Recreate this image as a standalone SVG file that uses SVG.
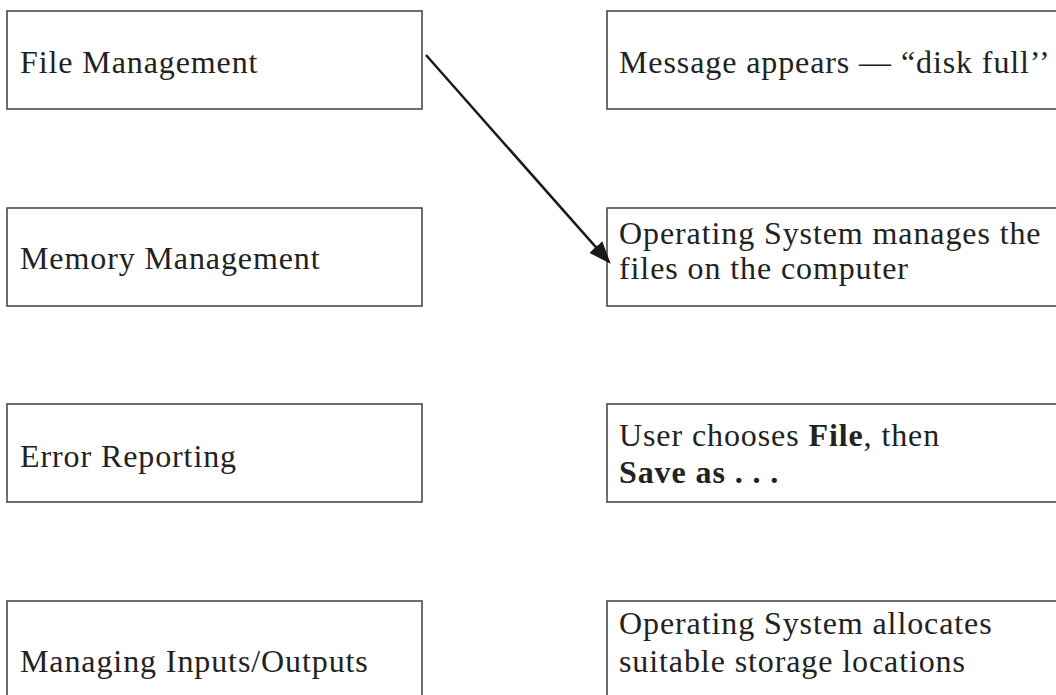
<svg xmlns="http://www.w3.org/2000/svg" width="1056" height="695" viewBox="0 0 1056 695">
<style>
.box{fill:#fff;stroke:#4a4a4a;stroke-width:1.6}
.t{font-family:"Liberation Serif","Times New Roman",serif;font-size:32px;fill:#222;letter-spacing:0.9px}
.b{font-weight:bold}
.conn{stroke:#1a1a1a;stroke-width:2.5;fill:none}
</style>
<defs>
<marker id="ah" markerWidth="9" markerHeight="7" refX="8" refY="3.5" orient="auto" markerUnits="strokeWidth">
<path d="M0,0 L9,3.5 L0,7 z" fill="#1a1a1a"/>
</marker>
</defs>
<rect width="1056" height="695" fill="#fff"/>
<g id="left1"><rect class="box" x="7" y="11" width="415" height="98"/><text class="t" x="20" y="73">File Management</text></g>
<g id="left2"><rect class="box" x="7" y="208" width="415" height="98"/><text class="t" x="20" y="269">Memory Management</text></g>
<g id="left3"><rect class="box" x="7" y="404" width="415" height="98"/><text class="t" x="20" y="467">Error Reporting</text></g>
<g id="left4"><rect class="box" x="7" y="601" width="415" height="98"/><text class="t" x="20" y="672">Managing Inputs/Outputs</text></g>
<g id="right1"><rect class="box" x="607" y="11" width="460" height="98"/><text class="t" x="619" y="73">Message appears — “disk full’’</text></g>
<g id="right2"><rect class="box" x="607" y="208" width="460" height="98"/><text class="t" x="619" y="244">Operating System manages the</text><text class="t" x="619" y="279">files on the computer</text></g>
<g id="right3"><rect class="box" x="607" y="404" width="460" height="98"/><text class="t" x="619" y="446">User chooses <tspan class="b">File</tspan>, then</text><text class="t b" x="619" y="483">Save as . . .</text></g>
<g id="right4"><rect class="box" x="607" y="601" width="460" height="98"/><text class="t" x="619" y="634">Operating System allocates</text><text class="t" x="619" y="672">suitable storage locations</text></g>
<g id="connectors"><line class="conn" x1="426" y1="55" x2="609" y2="262" marker-end="url(#ah)"/></g>
</svg>
